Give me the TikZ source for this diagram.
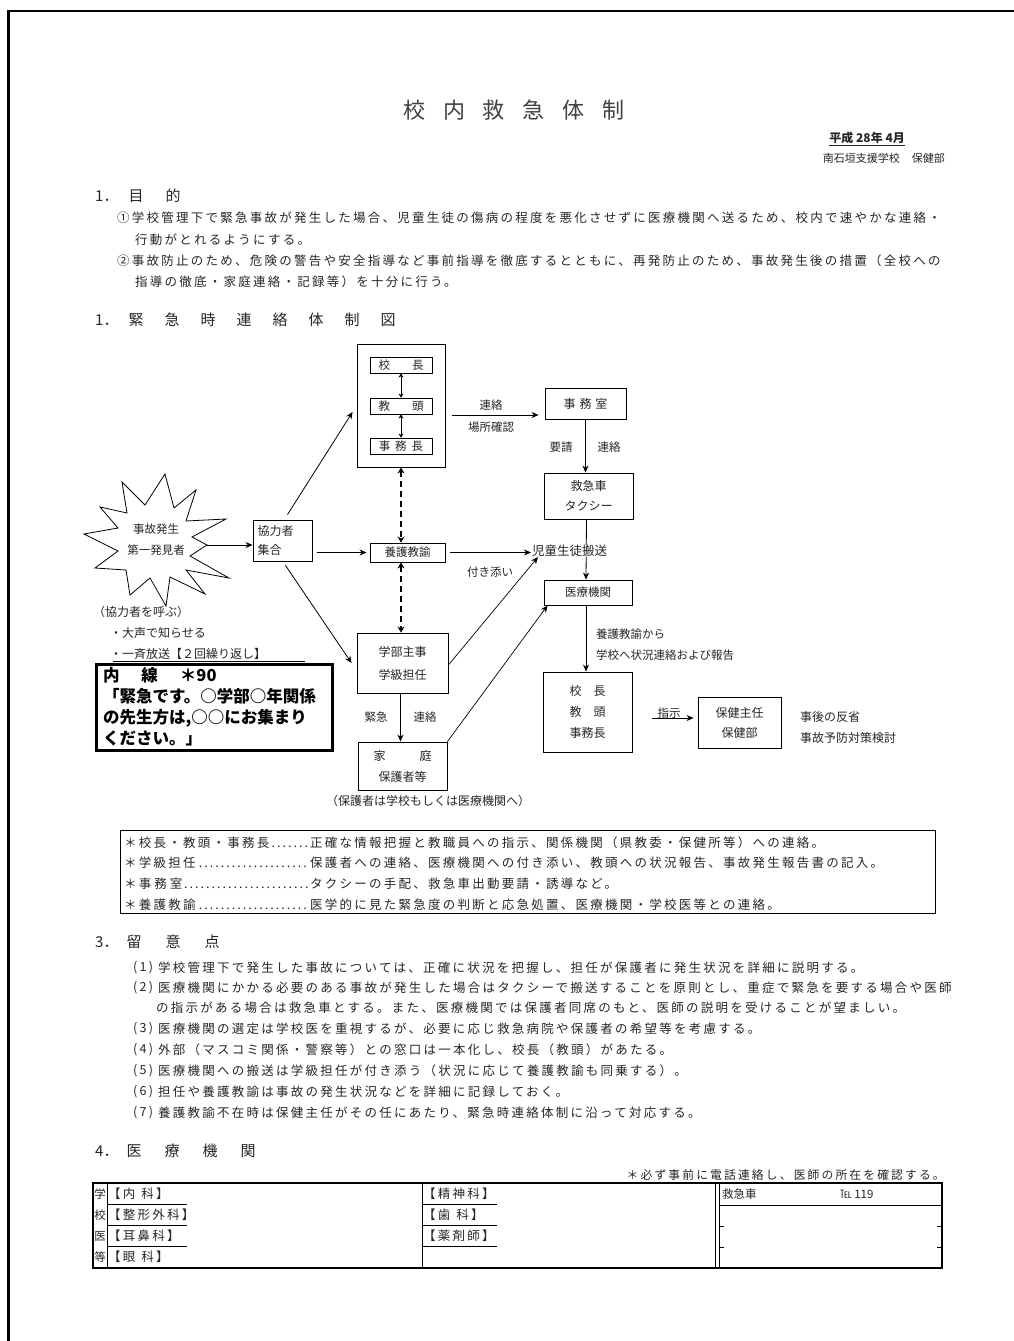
\documentclass[tikz,border=0pt]{standalone}
\usepackage{fontspec}
\setmainfont{Noto Sans CJK JP}
\newfontfamily\wide{Noto Sans CJK JP}[LetterSpace=18]
\usetikzlibrary{arrows.meta,calc}
\newcommand\fs[2]{\fontsize{#1}{#2}\selectfont}
\newcommand\bt{\wide\fs{12.5}{14}}
\newcommand\st{\fs{11.5}{12}}
\begin{document}
\begin{tikzpicture}[x=1pt,y=-1pt,
  tx/.style={inner sep=0pt, anchor=west, text=black!85},
  pbox/.style={draw, line width=0.9pt, inner sep=0pt, align=center, text=black!85},
  arr/.style={-{Stealth[length=7pt,width=6pt]}, line width=0.8pt},
  darr/.style={{Stealth[length=6pt,width=7pt]}-{Stealth[length=6pt,width=7pt]}, line width=2.4pt, dash pattern=on 6pt off 4pt},
  iarr/.style={{Stealth[length=4pt,width=5pt]}-{Stealth[length=4pt,width=5pt]}, line width=0.8pt},
  tline/.style={line width=0.9pt}]
\useasboundingbox (0,0) rectangle (1014,1341);
\fill[white] (0,0) rectangle (1014,1341);
% page frame
\draw[line width=2.5pt] (8.5,1341) -- (8.5,11) -- (1014,11);

% title
\node[tx, anchor=center] (title) at (514,110) {\fs{22}{22}\color{black!75}校\hspace{18pt}内\hspace{18pt}救\hspace{18pt}急\hspace{18pt}体\hspace{18pt}制};
\node[tx, anchor=east] (date) at (905,139) {\fs{12}{12}\bfseries\underline{平成 28年\ 4月}};
\node[tx, anchor=east] (org) at (945,158) {\fs{11}{11}南石垣支援学校\hspace{12pt}保健部};

% section 1
\node[tx] (h1) at (95,196) {\fs{15}{15}1．\hspace{10pt}目\hspace{22pt}的};
\node[tx] (p1a) at (117,218) {\bt ①学校管理下で緊急事故が発生した場合、児童生徒の傷病の程度を悪化させずに医療機関へ送るため、校内で速やかな連絡・};
\node[tx] (p1b) at (135,240) {\bt 行動がとれるようにする。};
\node[tx] (p2a) at (117,261) {\bt ②事故防止のため、危険の警告や安全指導など事前指導を徹底するとともに、再発防止のため、事故発生後の措置（全校への};
\node[tx] (p2b) at (135,282) {\bt 指導の徹底・家庭連絡・記録等）を十分に行う。};

% section 2 header
\node[tx] (h2) at (95,320) {\fs{15}{15}1．\hspace{10pt}緊\hspace{21pt}急\hspace{21pt}時\hspace{21pt}連\hspace{21pt}絡\hspace{21pt}体\hspace{21pt}制\hspace{21pt}図};

% ---- diagram ----
\node[pbox, minimum width=88, minimum height=123] (top) at (401,405.5) {};
\node[pbox, minimum width=62, minimum height=16, font=\st] (k1) at (401,365) {校\hspace{22pt}長};
\node[pbox, minimum width=62, minimum height=16, font=\st] (k2) at (401,406) {教\hspace{22pt}頭};
\node[pbox, minimum width=62, minimum height=16, font=\st] (k3) at (401,446) {事\hspace{5pt}務\hspace{5pt}長};
\draw[iarr] (k1.south) -- (k2.north);
\draw[iarr] (k2.south) -- (k3.north);

\node[pbox, minimum width=81, minimum height=31, font=\fs{12}{12}] (jim) at (585.5,403.5) {事\hspace{4pt}務\hspace{4pt}室};
\draw[arr] ($(top.east)+(7,9.5)$) -- ($(jim.west)+(-6,11.5)$);
\node[tx, anchor=center] (l1) at (491,405) {\st 連絡};
\node[tx, anchor=center] (l2) at (491,427) {\st 場所確認};

\node[pbox, minimum width=89, minimum height=46, font=\fs{12}{20}] (kyu) at (588.5,496) {救急車\\タクシー};
\draw[arr] (jim.south) -- (jim.south |- kyu.north);
\node[tx, anchor=center] (l3) at (561,447) {\st 要請};
\node[tx, anchor=center] (l4) at (609,447) {\st 連絡};

\node[pbox, minimum width=88, minimum height=25, font=\fs{11.5}{12}] (iryo) at (588,592.5) {医療機関};
\draw[arr] ($(kyu.south)+(-2,0)$) -- ($(iryo.north)+(-2,0)$);
\node[tx, fill=white, fill opacity=0.6, text opacity=1] (hanso) at (532,551) {\fs{12.5}{13}児童生徒搬送};

% left part
\coordinate (startip) at (207,545);
\draw[line width=0.8pt, line join=miter] (122,482) -- (145,505) -- (165,474) -- (174,508) -- (196,490) -- (186,521) -- (226,519) -- (192,537) -- (startip) -- (190,556) -- (229,578) -- (186,570) -- (205,594) -- (170,577) -- (166,606) -- (150,578) -- (130,595) -- (126,570) -- (95,568) -- (118,551) -- (84,534) -- (118,528) -- (100,507) -- (127,513) -- cycle;
\node[tx, anchor=center, align=center, font=\fs{11.5}{21}] (acc) at (156,540) {事故発生\\第一発見者};

\node[pbox, minimum width=59, minimum height=41, text width=50, align=left, font=\fs{12}{19}] (kyo) at (282.5,540.5) {協力者\\集合};
\draw[arr] (startip) -- (kyo.west |- startip);

\node[pbox, minimum width=75, minimum height=19, font=\st] (youn) at (407.5,552.5) {養護教諭};
\draw[arr] ($(kyo.east |- youn.west)+(5,0)$) -- ($(youn.west)+(-3,0)$);
\draw[arr] ($(kyo.north)+(5,-5)$) -- ($(top.west)+(-4,6.5)$);
\draw[darr] (top.south) -- (top.south |- youn.north);

\node[pbox, minimum width=91, minimum height=60, font=\fs{12}{23}] (gakubu) at (402.5,663) {学部主事\\学級担任};
\draw[arr] ($(kyo.south)+(3,4)$) -- ($(gakubu.west)+(-5,0)$);
\draw[darr] (top.south |- youn.south) -- (top.south |- gakubu.north);

\draw[arr] ($(youn.east)+(5,0)$) -- ($(hanso.west)+(-1,1.5)$);

\node[pbox, minimum width=89, minimum height=48, font=\fs{12}{21}] (katei) at (402.5,766) {家\hspace{34pt}庭\\保護者等};
\draw[arr] ($(gakubu.south)+(-2,0)$) -- ($(katei.north)+(-2,0)$);
\node[tx, anchor=center] (l5) at (376,717) {\st 緊急};
\node[tx, anchor=center] (l6) at (425,717) {\st 連絡};
\node[tx, anchor=center] (note1) at (428,801) {\fs{12}{12}（保護者は学校もしくは医療機関へ）};

\draw[arr, line width=0.7pt] ($(gakubu.east)+(0,2)$) -- ($(hanso.south west)+(6,0)$);
\node[tx, anchor=center] (l7) at (490,572) {\st 付き添い};
\draw[arr, line width=0.7pt] (katei.north east) -- ($(iryo.south west)+(4,0)$);

\node[pbox, minimum width=89, minimum height=80, font=\fs{12}{21}] (kocho2) at (587.5,712) {校\hspace{12pt}長\\教\hspace{12pt}頭\\事務長};
\draw[arr] ($(iryo.south)+(-2,0)$) -- ($(kocho2.north)+(-1.5,0)$);
\node[tx] (l8) at (596,634) {\st 養護教諭から};
\node[tx] (l9) at (596,655) {\st 学校へ状況連絡および報告};

\node[pbox, minimum width=83, minimum height=51, font=\fs{12}{20}] (hoken) at (739.5,722.5) {保健主任\\保健部};
\draw[arr] ($(kocho2.east)+(20,6)$) -- ($(hoken.west)+(-4,-4.5)$);
\node[tx, anchor=center] (l10) at (669,713) {\st 指示};
\node[tx] (l11) at (800,717) {\fs{12}{12}事後の反省};
\node[tx] (l12) at (800,738) {\fs{12}{12}事故予防対策検討};

% call-out texts
\node[tx] (c1) at (93,612) {\fs{12}{12}（協力者を呼ぶ）};
\node[tx] (c2) at (110,633) {\fs{12}{12}・大声で知らせる};
\node[tx] (c3) at (110,654) {\fs{12}{12}・一斉放送【２回繰り返し】};
\draw[line width=0.9pt] ($(c3.south west)+(3,2)$) -- ++(192,0);
\node[draw, line width=3pt, minimum width=236, minimum height=86, inner sep=0pt, text width=222, align=left, font=\bfseries\fs{16.5}{21}] (naisen) at (214,707) {内\hspace{22pt}線\hspace{22pt}＊90\\「緊急です。○学部○年関係\\の先生方は,○○にお集まり\\ください。」};

% roles box
\node[draw, line width=0.9pt, minimum width=815, minimum height=83, inner sep=0pt] (roles) at (527.5,871.5) {};
\node[tx] (r1a) at (124,843) {\bt\makebox[186pt][l]{＊校長・教頭・事務長\dotfill}};
\node[tx] (r1b) at (310,843) {\bt 正確な情報把握と教職員への指示、関係機関（県教委・保健所等）への連絡。};
\node[tx] (r2a) at (124,863) {\bt\makebox[186pt][l]{＊学級担任\dotfill}};
\node[tx] (r2b) at (310,863) {\bt 保護者への連絡、医療機関への付き添い、教頭への状況報告、事故発生報告書の記入。};
\node[tx] (r3a) at (124,884) {\bt\makebox[186pt][l]{＊事\hspace{3pt}務\hspace{3pt}室\dotfill}};
\node[tx] (r3b) at (310,884) {\bt タクシーの手配、救急車出動要請・誘導など。};
\node[tx] (r4a) at (124,905) {\bt\makebox[186pt][l]{＊養護教諭\dotfill}};
\node[tx] (r4b) at (310,905) {\bt 医学的に見た緊急度の判断と応急処置、医療機関・学校医等との連絡。};

% section 3
\node[tx] (h3) at (95,942) {\fs{15}{15}3．\hspace{8pt}留\hspace{24pt}意\hspace{24pt}点};
\node[tx] (n1) at (133,968) {\bt (1)};
\node[tx] (s1) at (158,968) {\bt 学校管理下で発生した事故については、正確に状況を把握し、担任が保護者に発生状況を詳細に説明する。};
\node[tx] (n2) at (133,988) {\bt (2)};
\node[tx] (s2) at (158,988) {\bt 医療機関にかかる必要のある事故が発生した場合はタクシーで搬送することを原則とし、重症で緊急を要する場合や医師};
\node[tx] (s2b) at (156,1008) {\bt の指示がある場合は救急車とする。また、医療機関では保護者同席のもと、医師の説明を受けることが望ましい。};
\node[tx] (n3) at (133,1029) {\bt (3)};
\node[tx] (s3) at (158,1029) {\bt 医療機関の選定は学校医を重視するが、必要に応じ救急病院や保護者の希望等を考慮する。};
\node[tx] (n4) at (133,1050) {\bt (4)};
\node[tx] (s4) at (158,1050) {\bt 外部（マスコミ関係・警察等）との窓口は一本化し、校長（教頭）があたる。};
\node[tx] (n5) at (133,1071) {\bt (5)};
\node[tx] (s5) at (158,1071) {\bt 医療機関への搬送は学級担任が付き添う（状況に応じて養護教諭も同乗する）。};
\node[tx] (n6) at (133,1092) {\bt (6)};
\node[tx] (s6) at (158,1092) {\bt 担任や養護教諭は事故の発生状況などを詳細に記録しておく。};
\node[tx] (n7) at (133,1113) {\bt (7)};
\node[tx] (s7) at (158,1113) {\bt 養護教諭不在時は保健主任がその任にあたり、緊急時連絡体制に沿って対応する。};

% section 4
\node[tx] (h4) at (95,1151) {\fs{15}{15}4．\hspace{8pt}医\hspace{23pt}療\hspace{23pt}機\hspace{23pt}関};
\node[tx, anchor=east] (note2) at (945,1175) {\wide\fs{11.8}{12}＊必ず事前に電話連絡し、医師の所在を確認する。};

\node[draw, line width=1.2pt, minimum width=849, minimum height=85, inner sep=0pt] (tbl) at (517.5,1225.5) {};
\draw[tline] (107,1183) -- (107,1268);
\draw[tline] (422,1183) -- (422,1268);
\draw[tline] (715,1183) -- (715,1268);
\draw[tline] (719,1183) -- (719,1268);
\foreach \yy in {1204,1225,1246}{
  \draw[tline] (107,\yy) -- (187,\yy);
  \draw[tline] (422,\yy) -- (497,\yy);
}
\draw[tline] (719,1205) -- (942,1205);
\foreach \yy in {1226,1247}{
  \draw[tline] (719,\yy) -- (724,\yy);
  \draw[tline] (937,\yy) -- (942,\yy);
}
\node[tx, anchor=center] (v1) at (100,1194) {\st 学};
\node[tx, anchor=center] (v2) at (100,1215) {\st 校};
\node[tx, anchor=center] (v3) at (100,1236) {\st 医};
\node[tx, anchor=center] (v4) at (100,1257) {\st 等};
\node[tx] (m1) at (108,1194) {\bt 【内\hspace{6pt}科】};
\node[tx] (m2) at (108,1215) {\bt 【整形外科】};
\node[tx] (m3) at (108,1236) {\bt 【耳鼻科】};
\node[tx] (m4) at (108,1257) {\bt 【眼\hspace{6pt}科】};
\node[tx] (m5) at (423,1194) {\bt 【精神科】};
\node[tx] (m6) at (423,1215) {\bt 【歯\hspace{6pt}科】};
\node[tx] (m7) at (423,1236) {\bt 【薬剤師】};
\node[tx] (m8) at (722,1194) {\st 救急車};
\node[tx] (m9) at (840,1194) {\st ℡ 119};
\end{tikzpicture}
\end{document}
